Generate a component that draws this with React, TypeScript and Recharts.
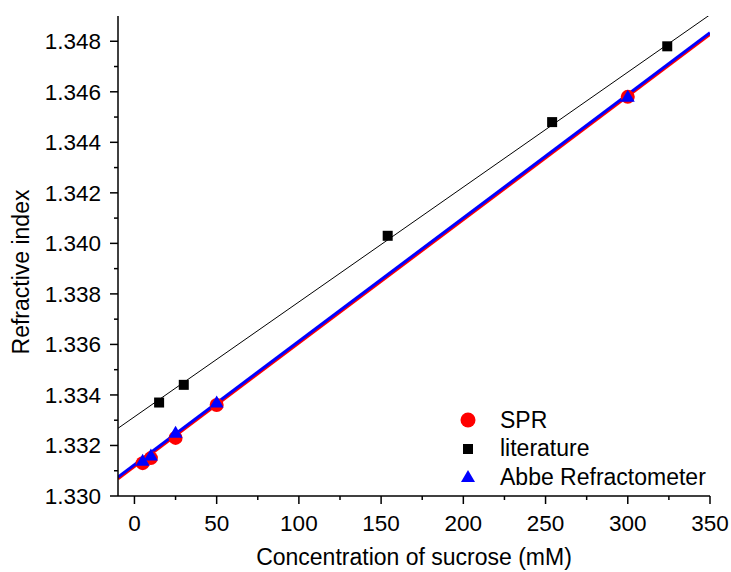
import React from 'react';
import { ComposedChart, Line, Scatter, XAxis, YAxis } from 'recharts';

// measured points
const sprX = [5, 10, 25, 50, 300];
const sprY = [1.3313, 1.3315, 1.3323, 1.3336, 1.3458];
const litX = [15, 30, 154, 254, 324];
const litY = [1.3337, 1.3344, 1.3403, 1.3448, 1.3478];
const abbeX = [5, 10, 25, 50, 300];
const abbeY = [1.3314, 1.3316, 1.3325, 1.3337, 1.3458];

// linear fit endpoints
const fitX = [-10, 350];
const litFitY = [1.33268, 1.34905];
const sprFitY = [1.33068, 1.34827];
const abbeFitY = [1.33075, 1.34834];

const xMajorTicks = [0, 50, 100, 150, 200, 250, 300, 350];
const xMinorTicks = [25, 75, 125, 175, 225, 275, 325];
const yMajorTicks = [1.33, 1.332, 1.334, 1.336, 1.338, 1.34, 1.342, 1.344, 1.346, 1.348];
const yMinorTicks = [1.331, 1.333, 1.335, 1.337, 1.339, 1.341, 1.343, 1.345, 1.347];

const legendItems = [
  { name: 'SPR', shape: 'circle', color: '#ff0000' },
  { name: 'literature', shape: 'square', color: '#000000' },
  { name: 'Abbe Refractometer', shape: 'triangle', color: '#0000ff' },
];

const zip = (xs: number[], ys: number[]) => xs.map((x, i) => ({ x, y: ys[i] }));

const FONT = '"Liberation Sans", Arial, sans-serif';

const Circle = (props: any) => <circle cx={props.cx} cy={props.cy} r={7} fill="#ff0000" />;
const Square = (props: any) => (
  <rect x={props.cx - 5} y={props.cy - 5} width={10} height={10} fill="#000" />
);
const Triangle = (props: any) => (
  <polygon
    points={`${props.cx},${props.cy - 7} ${props.cx - 7},${props.cy + 5} ${props.cx + 7},${props.cy + 5}`}
    fill="#0000ff"
  />
);

const fmtY = (v: number) => v.toFixed(3);

const BottomTick = (props: any) => {
  const { x, y, payload } = props;
  const major = xMajorTicks.includes(payload.value);
  return (
    <g>
      <line x1={x} x2={x} y1={y} y2={y + (major ? 8 : 4)} stroke="#000" strokeWidth={1.5} />
      {major && (
        <text x={x} y={y + 35} textAnchor="middle" fontSize={22.5} fontFamily={FONT} fill="#000">
          {payload.value}
        </text>
      )}
    </g>
  );
};

const LeftTick = (props: any) => {
  const { x, y, payload } = props;
  const major = yMajorTicks.includes(payload.value);
  return (
    <g>
      <line x1={x} x2={x - (major ? 8 : 4)} y1={y} y2={y} stroke="#000" strokeWidth={1.5} />
      {major && (
        <text x={x - 17} y={y + 8} textAnchor="end" fontSize={22.5} fontFamily={FONT} fill="#000">
          {fmtY(payload.value)}
        </text>
      )}
    </g>
  );
};

const TopTick = (props: any) => (
  <line x1={props.x} x2={props.x} y1={props.y} y2={props.y - 2} stroke="#000" strokeWidth={1.5} />
);
const RightTick = (props: any) => (
  <line x1={props.x} x2={props.x + 2} y1={props.y} y2={props.y} stroke="#000" strokeWidth={1.5} />
);

const XTitle = () => (
  <text x={414} y={565} textAnchor="middle" fontSize={23} fontFamily={FONT} fill="#000">
    Concentration of sucrose (mM)
  </text>
);
const YTitle = () => (
  <text transform="translate(29,272) rotate(-90)" textAnchor="middle" fontSize={23} fontFamily={FONT} fill="#000">
    Refractive index
  </text>
);

const LegendBox = () => (
  <div style={{ position: 'absolute', left: 452, top: 406, fontFamily: FONT, fontSize: 23, color: '#000' }}>
    {legendItems.map((it) => (
      <div key={it.name} style={{ display: 'flex', alignItems: 'center', height: 28.5 }}>
        <svg width={48} height={20}>
          {it.shape === 'circle' && <circle cx={16} cy={10} r={7.5} fill={it.color} />}
          {it.shape === 'square' && <rect x={11} y={5} width={10} height={10} fill={it.color} />}
          {it.shape === 'triangle' && <polygon points="16,3 9,15 23,15" fill={it.color} />}
        </svg>
        <span style={{ whiteSpace: 'nowrap' }}>{it.name}</span>
      </div>
    ))}
  </div>
);

export default function App() {
  const allTicksX = [...xMajorTicks, ...xMinorTicks].sort((a, b) => a - b);
  const allTicksY = [...yMajorTicks, ...yMinorTicks].sort((a, b) => a - b);
  return (
    <div style={{ position: 'absolute', left: 0, top: 0, width: 731, height: 572, background: '#fff' }}>
      <ComposedChart width={731} height={572} margin={{ top: 16, right: 21, bottom: 0, left: 0 }}>
        <XAxis
          xAxisId="b"
          type="number"
          dataKey="x"
          domain={[-10, 350]}
          allowDataOverflow
          ticks={allTicksX}
          interval={0}
          tickSize={0}
          tickMargin={0}
          tick={<BottomTick />}
          height={76}
          axisLine={{ stroke: '#000', strokeWidth: 1.5 }}
          label={{ content: () => <XTitle /> }}
        />
        <XAxis
          xAxisId="t"
          orientation="top"
          type="number"
          dataKey="x"
          domain={[-10, 350]}
          allowDataOverflow
          ticks={allTicksX}
          interval={0}
          tickSize={0}
          tickMargin={0}
          tick={<TopTick />}
          height={0}
          axisLine={{ stroke: '#000', strokeWidth: 1.5 }}
        />
        <YAxis
          yAxisId="l"
          type="number"
          domain={[1.33, 1.349]}
          allowDataOverflow
          ticks={allTicksY}
          interval={0}
          tickSize={0}
          tickMargin={0}
          tick={<LeftTick />}
          width={118}
          axisLine={{ stroke: '#000', strokeWidth: 1.5 }}
          label={{ content: () => <YTitle /> }}
        />
        <YAxis
          yAxisId="r"
          orientation="right"
          type="number"
          domain={[1.33, 1.349]}
          allowDataOverflow
          ticks={allTicksY}
          interval={0}
          tickSize={0}
          tickMargin={0}
          tick={<RightTick />}
          width={0}
          axisLine={{ stroke: '#000', strokeWidth: 1.5 }}
        />
        <Scatter xAxisId="b" yAxisId="l" data={zip(sprX, sprY)} dataKey="y" shape={<Circle />} isAnimationActive={false} />
        <Scatter xAxisId="b" yAxisId="l" data={zip(litX, litY)} dataKey="y" shape={<Square />} isAnimationActive={false} />
        <Scatter xAxisId="b" yAxisId="l" data={zip(abbeX, abbeY)} dataKey="y" shape={<Triangle />} isAnimationActive={false} />
        <Line xAxisId="b" yAxisId="l" data={zip(fitX, litFitY)} dataKey="y" stroke="#000" strokeWidth={1} dot={false} isAnimationActive={false} />
        <Line xAxisId="b" yAxisId="l" data={zip(fitX, sprFitY)} dataKey="y" stroke="#ff0000" strokeWidth={3} dot={false} isAnimationActive={false} />
        <Line xAxisId="b" yAxisId="l" data={zip(fitX, abbeFitY)} dataKey="y" stroke="#0000ff" strokeWidth={3} dot={false} isAnimationActive={false} />
      </ComposedChart>
      <LegendBox />
    </div>
  );
}
